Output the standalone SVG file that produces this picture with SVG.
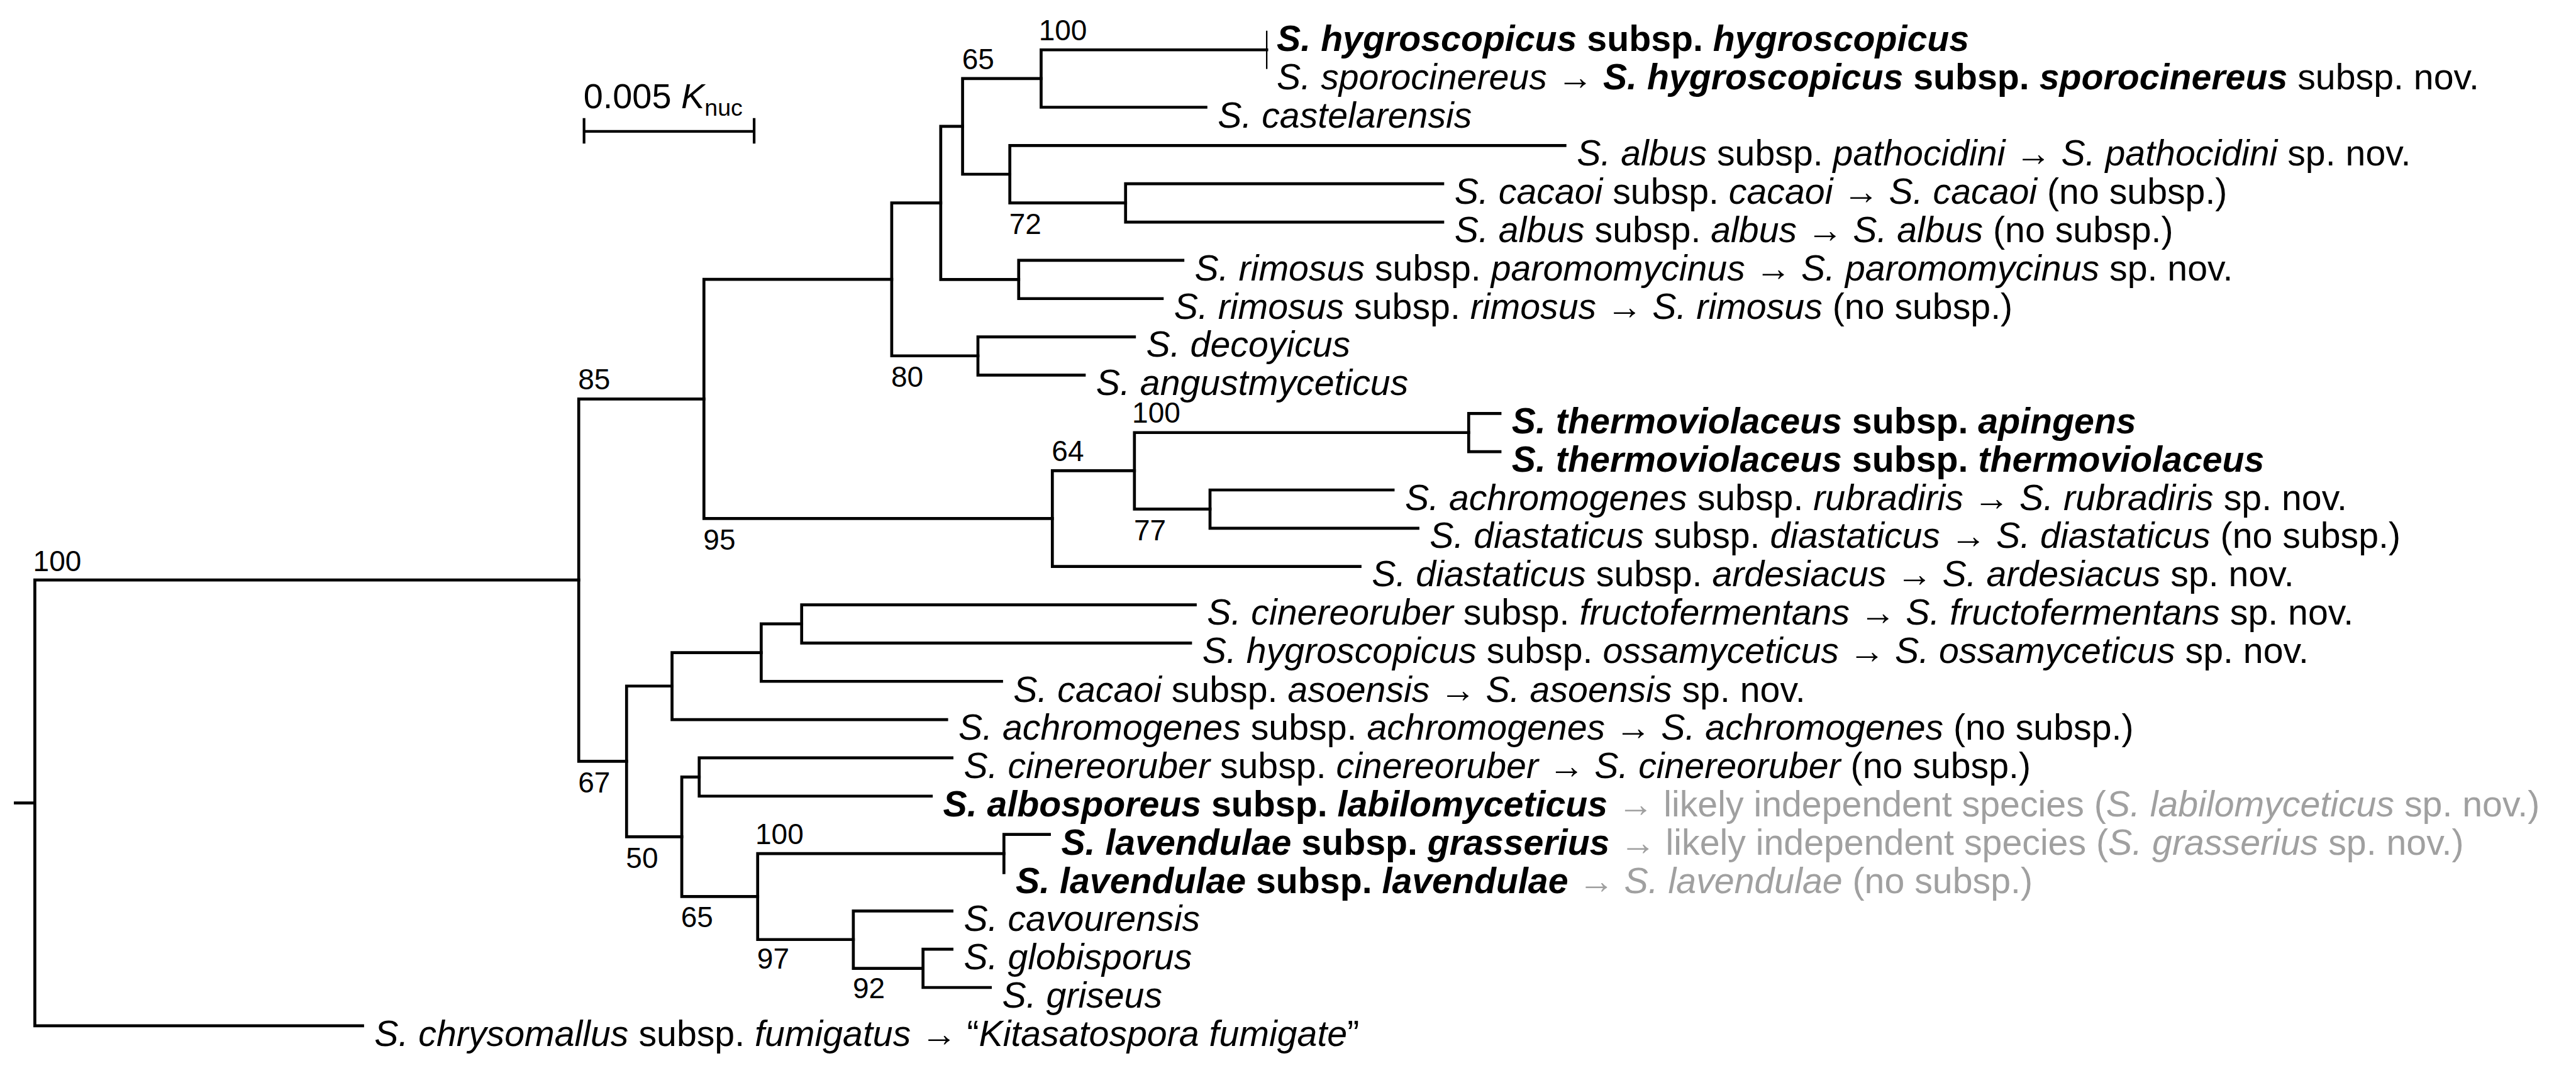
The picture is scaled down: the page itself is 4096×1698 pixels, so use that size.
<svg xmlns="http://www.w3.org/2000/svg" width="4096" height="1698" viewBox="0 0 4096 1698">
<style>
text{font-family:"Liberation Sans",Arial,sans-serif;fill:#000}
.t{font-size:61px}
.s{font-size:59.5px}
.bs{font-size:49px}
.i{font-style:italic}
.b{font-weight:bold}
.g{fill:#A0A0A0}
.br{fill:none;stroke:#000;stroke-width:5;stroke-linecap:square}
.thin{fill:none;stroke:#000;stroke-width:2.5}
</style>
<rect width="4096" height="1698" fill="#fff"/>
<g transform="scale(0.939)">
<g id="connectors">
<path class="br" d="M26 1359.5H59M59 982V1736.8M59 982H980M59 1736.8H614"/>
<path class="br" d="M980 675.5V1289M980 675.5H1192M980 1289H1061"/>
<path class="br" d="M1192 473V878M1192 473H1510M1192 878H1782"/>
<path class="br" d="M1510 343.6V602.5M1510 343.6H1593M1510 602.5H1656"/>
<path class="br" d="M1593 214V473.3M1593 214H1630M1593 473.3H1725"/>
<path class="br" d="M1630 133V295M1630 133H1763M1630 295H1710"/>
<path class="br" d="M1763 84.4V181.6M1763 84.4H2145M1763 181.6H2042"/>
<path class="thin" d="M2145 52V116.8"/>
<path class="br" d="M1710 246.4V343.6M1710 246.4H2650M1710 343.6H1906"/>
<path class="br" d="M1906 311.2V376M1906 311.2H2443M1906 376H2443"/>
<path class="br" d="M1725 440.8V505.6M1725 440.8H2003M1725 505.6H1968"/>
<path class="br" d="M1656 570.4V635.2M1656 570.4H1921M1656 635.2H1836"/>
<path class="br" d="M1782 797V959.2M1782 797H1921M1782 959.2H2303"/>
<path class="br" d="M1921 732.4V862M1921 732.4H2487M1921 862H2049"/>
<path class="br" d="M2487 700V764.8M2487 700H2540M2487 764.8H2540"/>
<path class="br" d="M2049 829.6V894.4M2049 829.6H2359M2049 894.4H2401"/>
<path class="br" d="M1061 1161.6V1416.8M1061 1161.6H1138M1061 1416.8H1154.5"/>
<path class="br" d="M1138 1105V1218.4M1138 1105H1289M1138 1218.4H1603"/>
<path class="br" d="M1289 1056.4V1153.6M1289 1056.4H1357.5M1289 1153.6H1696"/>
<path class="br" d="M1357.5 1024V1088.8M1357.5 1024H2024M1357.5 1088.8H2016"/>
<path class="br" d="M1154.5 1315.6V1518M1154.5 1315.6H1184M1154.5 1518H1283"/>
<path class="br" d="M1184 1283.2V1348M1184 1283.2H1612M1184 1348H1577"/>
<path class="br" d="M1283 1445.2V1590.8M1283 1445.2H1700M1283 1590.8H1445"/>
<path class="br" d="M1700 1412.8V1477.6M1700 1412.8H1777"/>
<path class="br" d="M1445 1542.4V1639.6M1445 1542.4H1612M1445 1639.6H1563"/>
<path class="br" d="M1563 1607.2V1672M1563 1607.2H1612M1563 1672H1677"/>
</g>
<g id="scalebar">
<path class="br" d="M989 222.5H1277M989 200V243M1277 200V243" style="stroke-linecap:butt;stroke-width:4.5"/>
<text class="s" x="988" y="183">0.005 <tspan class="i">K</tspan><tspan font-size="40" dy="13">nuc</tspan></text>
</g>
<g id="bootstrap">
<text class="bs" x="56" y="967">100</text>
<text class="bs" x="979" y="659">85</text>
<text class="bs" x="979" y="1342">67</text>
<text class="bs" x="1191" y="931">95</text>
<text class="bs" x="1509" y="655">80</text>
<text class="bs" x="1629" y="117">65</text>
<text class="bs" x="1759" y="68">100</text>
<text class="bs" x="1709" y="396">72</text>
<text class="bs" x="1917" y="716">100</text>
<text class="bs" x="1781" y="781">64</text>
<text class="bs" x="1920" y="915">77</text>
<text class="bs" x="1060" y="1470">50</text>
<text class="bs" x="1153" y="1570">65</text>
<text class="bs" x="1279" y="1429">100</text>
<text class="bs" x="1282" y="1640">97</text>
<text class="bs" x="1444" y="1690">92</text>
</g>
<g id="n0"><text class="t b" x="2162" y="86"><tspan class="i">S. hygroscopicus</tspan> subsp. <tspan class="i">hygroscopicus</tspan></text></g>
<g id="n1"><text class="t" x="2162" y="151"><tspan class="i">S. sporocinereus</tspan> → <tspan class="b"><tspan class="i">S. hygroscopicus</tspan> subsp. <tspan class="i">sporocinereus</tspan></tspan> subsp. nov.</text></g>
<g id="n2"><text class="t i" x="2062" y="216">S. castelarensis</text></g>
<g id="n3"><text class="t" x="2670" y="280"><tspan class="i">S. albus</tspan> subsp. <tspan class="i">pathocidini</tspan> → <tspan class="i">S. pathocidini</tspan> sp. nov.</text></g>
<g id="n4"><text class="t" x="2463" y="345"><tspan class="i">S. cacaoi</tspan> subsp. <tspan class="i">cacaoi</tspan> → <tspan class="i">S. cacaoi</tspan> (no subsp.)</text></g>
<g id="n5"><text class="t" x="2463" y="410"><tspan class="i">S. albus</tspan> subsp. <tspan class="i">albus</tspan> → <tspan class="i">S. albus</tspan> (no subsp.)</text></g>
<g id="n6"><text class="t" x="2023" y="475"><tspan class="i">S. rimosus</tspan> subsp. <tspan class="i">paromomycinus</tspan> → <tspan class="i">S. paromomycinus</tspan> sp. nov.</text></g>
<g id="n7"><text class="t" x="1988" y="540"><tspan class="i">S. rimosus</tspan> subsp. <tspan class="i">rimosus</tspan> → <tspan class="i">S. rimosus</tspan> (no subsp.)</text></g>
<g id="n8"><text class="t i" x="1941" y="604">S. decoyicus</text></g>
<g id="n9"><text class="t i" x="1856" y="669">S. angustmyceticus</text></g>
<g id="n10"><text class="t b" x="2560" y="734"><tspan class="i">S. thermoviolaceus</tspan> subsp. <tspan class="i">apingens</tspan></text></g>
<g id="n11"><text class="t b" x="2560" y="799"><tspan class="i">S. thermoviolaceus</tspan> subsp. <tspan class="i">thermoviolaceus</tspan></text></g>
<g id="n12"><text class="t" x="2379" y="864"><tspan class="i">S. achromogenes</tspan> subsp. <tspan class="i">rubradiris</tspan> → <tspan class="i">S. rubradiris</tspan> sp. nov.</text></g>
<g id="n13"><text class="t" x="2421" y="928"><tspan class="i">S. diastaticus</tspan> subsp. <tspan class="i">diastaticus</tspan> → <tspan class="i">S. diastaticus</tspan> (no subsp.)</text></g>
<g id="n14"><text class="t" x="2323" y="993"><tspan class="i">S. diastaticus</tspan> subsp. <tspan class="i">ardesiacus</tspan> → <tspan class="i">S. ardesiacus</tspan> sp. nov.</text></g>
<g id="n15"><text class="t" x="2044" y="1058"><tspan class="i">S. cinereoruber</tspan> subsp. <tspan class="i">fructofermentans</tspan> → <tspan class="i">S. fructofermentans</tspan> sp. nov.</text></g>
<g id="n16"><text class="t" x="2036" y="1123"><tspan class="i">S. hygroscopicus</tspan> subsp. <tspan class="i">ossamyceticus</tspan> → <tspan class="i">S. ossamyceticus</tspan> sp. nov.</text></g>
<g id="n17"><text class="t" x="1716" y="1188"><tspan class="i">S. cacaoi</tspan> subsp. <tspan class="i">asoensis</tspan> → <tspan class="i">S. asoensis</tspan> sp. nov.</text></g>
<g id="n18"><text class="t" x="1623" y="1252"><tspan class="i">S. achromogenes</tspan> subsp. <tspan class="i">achromogenes</tspan> → <tspan class="i">S. achromogenes</tspan> (no subsp.)</text></g>
<g id="n19"><text class="t" x="1632" y="1317"><tspan class="i">S. cinereoruber</tspan> subsp. <tspan class="i">cinereoruber</tspan> → <tspan class="i">S. cinereoruber</tspan> (no subsp.)</text></g>
<g id="n20"><text class="t" x="1597" y="1382"><tspan class="b"><tspan class="i">S. albosporeus</tspan> subsp. <tspan class="i">labilomyceticus</tspan></tspan><tspan class="g"> → likely independent species (<tspan class="i">S. labilomyceticus</tspan> sp. nov.)</tspan></text></g>
<g id="n21"><text class="t" x="1797" y="1447"><tspan class="b"><tspan class="i">S. lavendulae</tspan> subsp. <tspan class="i">grasserius</tspan></tspan><tspan class="g"> → likely independent species (<tspan class="i">S. grasserius</tspan> sp. nov.)</tspan></text></g>
<g id="n22"><text class="t" x="1720" y="1512"><tspan class="b"><tspan class="i">S. lavendulae</tspan> subsp. <tspan class="i">lavendulae</tspan></tspan><tspan class="g"> → <tspan class="i">S. lavendulae</tspan> (no subsp.)</tspan></text></g>
<g id="n23"><text class="t i" x="1632" y="1576">S. cavourensis</text></g>
<g id="n24"><text class="t i" x="1632" y="1641">S. globisporus</text></g>
<g id="n25"><text class="t i" x="1697" y="1706">S. griseus</text></g>
<g id="n26"><text class="t" x="634" y="1771"><tspan class="i">S. chrysomallus</tspan> subsp. <tspan class="i">fumigatus</tspan> → “<tspan class="i">Kitasatospora fumigate</tspan>”</text></g>
</g>
</svg>
